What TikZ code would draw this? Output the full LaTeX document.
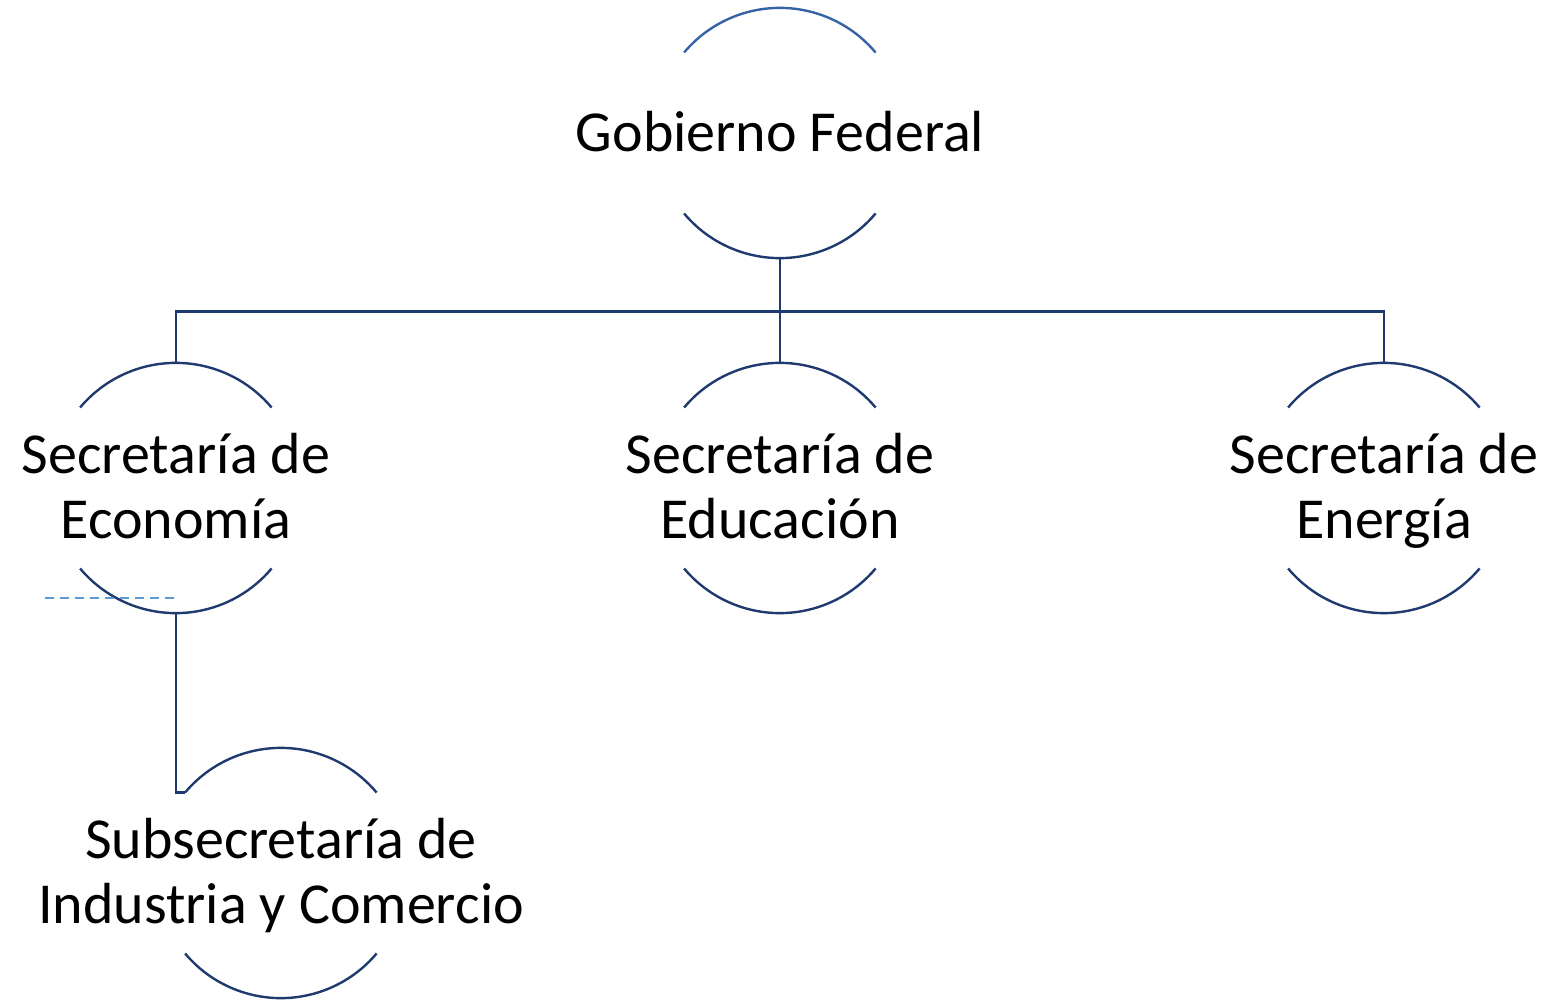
\documentclass[tikz,border=0pt]{standalone}
\usepackage{fontspec}
\setmainfont{Carlito}
\definecolor{navy}{HTML}{1F3A6E}
\definecolor{midblue}{HTML}{3563A6}
\definecolor{lightblue}{HTML}{5B9BD5}
\begin{document}
\begin{tikzpicture}[x=1pt,y=-1pt,
  circ/.style={circle,minimum size=250pt,inner sep=0pt,draw=none},
  lbl/.style={align=center,inner sep=0pt,font=\fontsize{58}{65}\selectfont,yshift=-4.5pt},
  arcline/.style={draw=navy,line width=2.4pt},
  conn/.style={draw=navy,line width=2.6pt},
  dashline/.style={draw=lightblue,line width=2.2pt,dash pattern=on 9pt off 6pt}]
\useasboundingbox (0,0) rectangle (1562,1008);
% circles
\node[circ] (gob) at (780,133) {};
\node[circ] (eco) at (176,488) {};
\node[circ] (edu) at (780,488) {};
\node[circ] (ene) at (1384,488) {};
\node[circ] (sub) at (281,873) {};
% arcs
\draw[arcline,draw=midblue] (gob.140) arc[start angle=140,end angle=40,radius=125pt];
\draw[arcline] (gob.220) arc[start angle=220,end angle=320,radius=125pt];
\foreach \n in {eco,edu,ene,sub}{
  \draw[arcline] (\n.140) arc[start angle=140,end angle=40,radius=125pt];
  \draw[arcline] (\n.220) arc[start angle=220,end angle=320,radius=125pt];
}
% labels
\node[lbl,yshift=-1.5pt] (gobT) at (gob.center) {\strut Gobierno Federal};
\node[lbl] (ecoT) at (eco.center) {\strut Secretaría de\\\strut Economía};
\node[lbl] (eduT) at (edu.center) {\strut Secretaría de\\\strut Educación};
\node[lbl] (eneT) at (ene.center) {\strut Secretaría de\\\strut Energía};
\node[lbl] (subT) at (sub.center) {\strut Subsecretaría de\\\strut Industria y Comercio};
% connectors
\draw[conn] (gob.south) -- ++(0,53) coordinate (bus);
\draw[conn] (bus) -| (eco.north);
\draw[conn] (bus) -| (ene.north);
\draw[conn] (bus) -- (edu.north);
\draw[conn] (eco.south) |- (sub.140);
% dashed line
\coordinate (d1) at (45,598);
\coordinate (d2) at (176,598);
\draw[dashline] (d1) -- (d2);
\end{tikzpicture}
\end{document}
